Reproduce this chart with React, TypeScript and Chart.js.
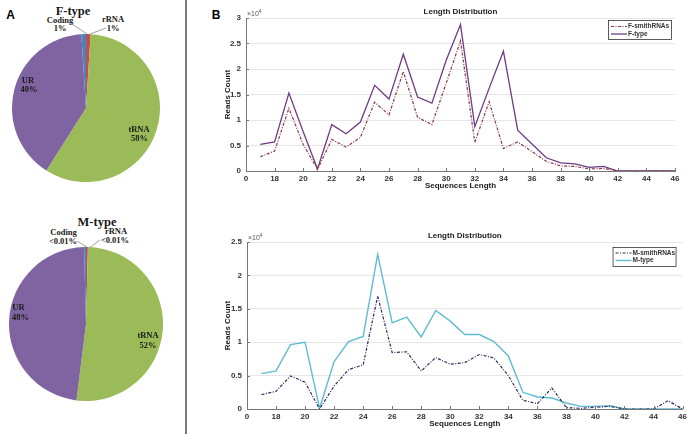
import React, { useEffect, useRef } from "react";
import { Chart, registerables } from "chart.js";

Chart.register(...registerables);

// ---------- Pie data ----------
const PIE_LABELS = ["rRNA", "tRNA", "UR", "Coding"];
const PIE_COLORS = ["#C0504D", "#9BBB59", "#8064A2", "#4F81BD"];
const F_PIE = [1, 58, 40, 1];
const M_PIE = [0.4, 52, 48, 0.4];
const F_PIE_TEXT = ["1%", "58%", "40%", "1%"];
const M_PIE_TEXT = ["<0.01%", "52%", "48%", "<0.01%"];

// ---------- Line data ----------
const LENGTHS = [17, 18, 19, 20, 21, 22, 23, 24, 25, 26, 27, 28, 29, 30, 31, 32, 33, 34, 35, 36, 37, 38, 39, 40, 41, 42, 43, 44, 45, 46];
const F_SMITH = [2800, 3900, 12300, 5200, 300, 6200, 4700, 6600, 13500, 11000, 19500, 10500, 9100, 17200, 25500, 5600, 13600, 4400, 5700, 3800, 1900, 1000, 900, 400, 500, 0, 0, 0, 0, 0];
const F_TYPE = [5200, 5700, 15300, 7700, 400, 9100, 7300, 9600, 16800, 14100, 22900, 14500, 13300, 21700, 28700, 8700, 16200, 23500, 8000, 5300, 2600, 1600, 1400, 700, 900, 0, 0, 0, 0, 0];
const M_SMITH = [2150, 2650, 4950, 4000, 0, 3450, 5900, 6600, 16900, 8450, 8550, 5700, 7700, 6700, 6950, 8150, 7650, 5000, 1300, 800, 3150, 200, 100, 250, 400, 0, 0, 0, 1250, 0];
const M_TYPE = [5300, 5700, 9650, 10000, 100, 7100, 10100, 10850, 23150, 12900, 13750, 10800, 14750, 13150, 11150, 11150, 10100, 7950, 2500, 1800, 1650, 900, 400, 400, 500, 0, 0, 0, 0, 0];

const X_TICK_LABELS = ["0", "18", "20", "22", "24", "26", "28", "30", "32", "34", "36", "38", "40", "42", "44", "46"];
const F_Y_TICK_LABELS = ["0", "0.5", "1", "1.5", "2", "2.5", "3"];
const M_Y_TICK_LABELS = ["0", "0.5", "1", "1.5", "2", "2.5"];

const SANS = '"Liberation Sans", Arial, sans-serif';
const SERIF = '"Liberation Serif", "Times New Roman", serif';

function PieChart({ values, left, top, size }: { values: number[]; left: number; top: number; size: number }) {
  const ref = useRef<HTMLCanvasElement>(null);
  useEffect(() => {
    const chart = new Chart(ref.current as HTMLCanvasElement, {
      type: "pie",
      data: {
        labels: PIE_LABELS,
        datasets: [{ data: values, backgroundColor: PIE_COLORS, borderWidth: 0 }],
      },
      options: {
        responsive: false,
        animation: false,
        devicePixelRatio: 1,
        layout: { padding: 0 },
        plugins: { legend: { display: false }, tooltip: { enabled: false } },
      },
    } as any);
    return () => chart.destroy();
  }, []);
  return (
    <canvas
      ref={ref}
      width={size}
      height={size}
      style={{ position: "absolute", left, top, width: size, height: size }}
    />
  );
}

type Series = { label: string; data: number[]; color: string; dash: number[]; width: number };

type LineProps = {
  left: number;
  top: number;
  width: number;
  height: number;
  areaLeft: number;
  areaTop: number;
  padRight: number;
  xAxisHeight: number;
  xTitlePad: number;
  yMax: number;
  yTickLabels: string[];
  series: Series[];
  legend: { dx: number; dy: number; w: number; h: number; sx0: number; sx1: number; tx: number; r1: number; r2: number };
};

function LineChart(p: LineProps) {
  const ref = useRef<HTMLCanvasElement>(null);
  useEffect(() => {
    const decor = {
      id: "decor",
      afterDraw(chart: any) {
        const { ctx } = chart;
        const { left, right, top, bottom } = chart.chartArea;
        ctx.save();
        // inner tick marks
        ctx.strokeStyle = "#777";
        ctx.lineWidth = 1;
        const xs = chart.scales.x;
        xs.ticks.forEach((t: any) => {
          const px = Math.round(xs.getPixelForValue(t.value)) + 0.5;
          ctx.beginPath();
          ctx.moveTo(px, bottom);
          ctx.lineTo(px, bottom - 3);
          ctx.stroke();
        });
        const ys = chart.scales.y;
        ys.ticks.forEach((t: any) => {
          const py = Math.round(ys.getPixelForValue(t.value)) + 0.5;
          ctx.beginPath();
          ctx.moveTo(left, py);
          ctx.lineTo(left + 3, py);
          ctx.stroke();
        });
        // title
        ctx.fillStyle = "#222";
        ctx.font = `bold 8px ${SANS}`;
        ctx.textAlign = "center";
        ctx.textBaseline = "middle";
        ctx.fillText("Length Distribution", (left + right) / 2, top - 6);
        // exponent
        ctx.fillStyle = "#555";
        ctx.textAlign = "left";
        ctx.textBaseline = "alphabetic";
        ctx.font = `7px ${SANS}`;
        ctx.fillText("×10", left + 1, top - 2);
        const w = ctx.measureText("×10").width;
        ctx.font = `5px ${SANS}`;
        ctx.fillText("4", left + 1 + w, top - 5);
        // legend
        const L = p.legend;
        const bx = right - L.dx;
        const by = top + L.dy;
        ctx.fillStyle = "#fff";
        ctx.fillRect(bx, by, L.w, L.h);
        ctx.strokeStyle = "#333";
        ctx.lineWidth = 0.8;
        ctx.strokeRect(bx + 0.5, by + 0.5, L.w, L.h);
        const rows = [L.r1, L.r2];
        p.series.forEach((s, i) => {
          const ry = by + rows[i];
          ctx.strokeStyle = s.color;
          ctx.lineWidth = s.width;
          ctx.setLineDash(s.dash);
          ctx.beginPath();
          ctx.moveTo(bx + L.sx0, ry);
          ctx.lineTo(bx + L.sx1, ry);
          ctx.stroke();
          ctx.setLineDash([]);
          ctx.fillStyle = "#333";
          ctx.font = `bold 6.5px ${SANS}`;
          ctx.textBaseline = "middle";
          ctx.fillText(s.label, bx + L.tx, ry);
        });
        ctx.restore();
      },
    };

    const chart = new Chart(ref.current as HTMLCanvasElement, {
      type: "line",
      data: {
        labels: LENGTHS,
        datasets: p.series.map((s) => ({
          label: s.label,
          data: s.data.map((v, i) => ({ x: LENGTHS[i], y: v })),
          borderColor: s.color,
          backgroundColor: s.color,
          borderWidth: s.width,
          borderDash: s.dash,
          pointRadius: 0,
          tension: 0,
          fill: false,
        })),
      },
      options: {
        responsive: false,
        animation: false,
        devicePixelRatio: 1,
        layout: { padding: { top: p.areaTop, right: p.padRight, left: 0, bottom: 0 } },
        plugins: { legend: { display: false }, tooltip: { enabled: false }, title: { display: false } },
        scales: {
          x: {
            type: "linear",
            min: 16,
            max: 46,
            afterFit: (s: any) => {
              s.height = p.xAxisHeight;
            },
            ticks: {
              stepSize: 2,
              padding: 3,
              maxRotation: 0,
              autoSkip: false,
              color: "#333",
              font: { family: SANS, size: 8, weight: "bold" },
              callback: (_v: any, i: number) => X_TICK_LABELS[i],
            },
            grid: { display: false, drawTicks: false },
            border: { color: "#777", width: 1 },
            title: {
              display: true,
              text: "Sequences Length",
              color: "#222",
              font: { family: SANS, size: 8, weight: "bold" },
              padding: { top: 0, bottom: p.xTitlePad },
            },
          },
          y: {
            type: "linear",
            min: 0,
            max: p.yMax,
            afterFit: (s: any) => {
              s.width = p.areaLeft;
            },
            ticks: {
              stepSize: 5000,
              padding: 5,
              color: "#333",
              font: { family: SANS, size: 8, weight: "bold" },
              callback: (_v: any, i: number) => p.yTickLabels[i],
            },
            grid: { color: "#e6e6e6", drawTicks: false, lineWidth: 1 },
            border: { color: "#777", width: 1 },
            title: {
              display: true,
              text: "Reads Count",
              color: "#222",
              font: { family: SANS, size: 8, weight: "bold" },
              padding: { top: 33, bottom: 0 },
            },
          },
        },
      },
      plugins: [decor],
    } as any);
    return () => chart.destroy();
  }, []);
  return (
    <canvas
      ref={ref}
      width={p.width}
      height={p.height}
      style={{ position: "absolute", left: p.left, top: p.top, width: p.width, height: p.height }}
    />
  );
}

function Txt({ x, y, text, size = 9, bold = true, family = SERIF, color = "#1a1a1a" }: any) {
  return (
    <div
      style={{
        position: "absolute",
        left: x,
        top: y,
        transform: "translate(-50%, -50%)",
        fontFamily: family,
        fontSize: size,
        fontWeight: bold ? "bold" : "normal",
        color,
        lineHeight: 1,
        whiteSpace: "nowrap",
      }}
    >
      {text}
    </div>
  );
}

export default function App() {
  return (
    <div
      style={{
        position: "fixed",
        left: 0,
        top: 0,
        width: 690,
        height: 434,
        background: "#fff",
        overflow: "hidden",
      }}
    >
      {/* Panel letters */}
      <Txt x={10.5} y={15} text="A" size={12} family={SANS} color="#000" />
      <Txt x={216} y={14.5} text="B" size={12} family={SANS} color="#000" />

      {/* divider */}
      <div style={{ position: "absolute", left: 185, top: 0, width: 2, height: 434, background: "#7a7a7a" }} />

      {/* F-type pie */}
      <PieChart values={F_PIE} left={12} top={34} size={148} />
      <Txt x={73} y={10.5} text="F-type" size={12.5} />
      <Txt x={60} y={19.5} text={PIE_LABELS[3]} size={8.5} />
      <Txt x={60} y={28} text={F_PIE_TEXT[3]} size={8.5} />
      <Txt x={113} y={18.5} text={PIE_LABELS[0]} size={8.5} />
      <Txt x={113} y={28} text={F_PIE_TEXT[0]} size={8.5} />
      <Txt x={28} y={80} text={PIE_LABELS[2]} size={8.5} />
      <Txt x={29} y={89} text={F_PIE_TEXT[2]} size={8.5} />
      <Txt x={139} y={129} text={PIE_LABELS[1]} size={8.5} />
      <Txt x={139.5} y={138} text={F_PIE_TEXT[1]} size={8.5} />

      {/* M-type pie */}
      <PieChart values={M_PIE} left={9} top={247} size={154} />
      <Txt x={97} y={222} text="M-type" size={12.5} />
      <Txt x={63.5} y={232} text={PIE_LABELS[3]} size={8.5} />
      <Txt x={63} y={241} text={M_PIE_TEXT[3]} size={8.5} />
      <Txt x={116} y={231} text={PIE_LABELS[0]} size={8.5} />
      <Txt x={115} y={240} text={M_PIE_TEXT[0]} size={8.5} />
      <Txt x={18.5} y={307} text={PIE_LABELS[2]} size={8.5} />
      <Txt x={20.5} y={316.5} text={M_PIE_TEXT[2]} size={8.5} />
      <Txt x={148} y={335} text={PIE_LABELS[1]} size={8.5} />
      <Txt x={148} y={345} text={M_PIE_TEXT[1]} size={8.5} />

      {/* leader lines */}
      <svg width={185} height={434} style={{ position: "absolute", left: 0, top: 0, pointerEvents: "none" }}>
        <line x1={69} y1={22} x2={87} y2={34} stroke="#888" strokeWidth={0.8} />
        <line x1={106} y1={28} x2={90} y2={34} stroke="#888" strokeWidth={0.8} />
        <line x1={77} y1={241} x2={87.5} y2={247.5} stroke="#888" strokeWidth={0.8} />
        <line x1={100} y1={240} x2={90} y2={247.5} stroke="#888" strokeWidth={0.8} />
      </svg>

      {/* F line chart */}
      <LineChart
        left={190}
        top={0}
        width={500}
        height={200}
        areaLeft={56}
        areaTop={18}
        padRight={15}
        xAxisHeight={29}
        xTitlePad={9}
        yMax={30000}
        yTickLabels={F_Y_TICK_LABELS}
        series={[
          { label: "F-smithRNAs", data: F_SMITH, color: "#8B3547", dash: [3, 1.5, 1, 1.5], width: 1.2 },
          { label: "F-type", data: F_TYPE, color: "#6E3C80", dash: [], width: 1.3 },
        ]}
        legend={{ dx: 67, dy: 2, w: 63, h: 19, sx0: 3, sx1: 19, tx: 20, r1: 6.5, r2: 14 }}
      />

      {/* M line chart */}
      <LineChart
        left={190}
        top={220}
        width={500}
        height={214}
        areaLeft={57}
        areaTop={22}
        padRight={7}
        xAxisHeight={25}
        xTitlePad={5}
        yMax={25000}
        yTickLabels={M_Y_TICK_LABELS}
        series={[
          { label: "M-smithRNAs", data: M_SMITH, color: "#2B2B5E", dash: [3, 1.5, 1, 1.5], width: 1.2 },
          { label: "M-type", data: M_TYPE, color: "#5DBCD4", dash: [], width: 1.4 },
        ]}
        legend={{ dx: 70, dy: 5, w: 63, h: 19, sx0: 3, sx1: 19, tx: 20, r1: 6, r2: 13.5 }}
      />
    </div>
  );
}
